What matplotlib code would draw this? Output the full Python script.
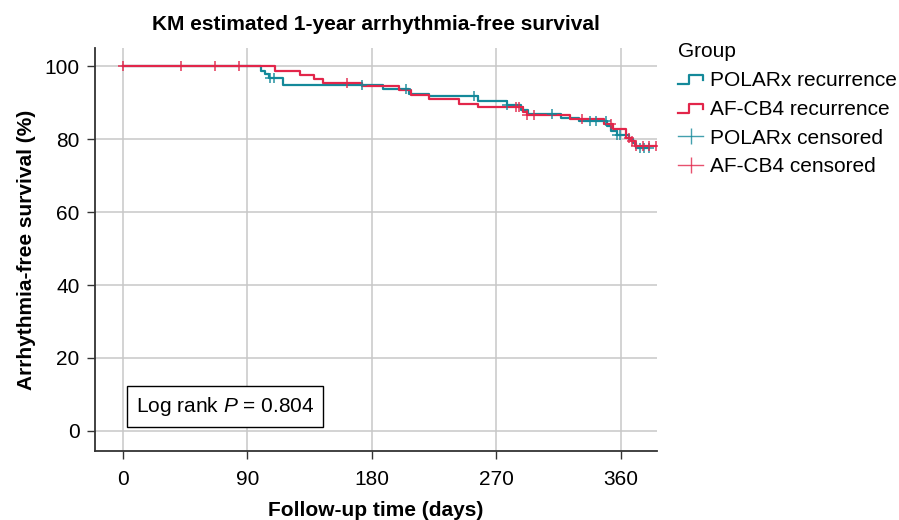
import matplotlib
matplotlib.use("Agg")
import matplotlib.pyplot as plt
import numpy as np
from matplotlib.legend_handler import HandlerLine2D
from matplotlib.lines import Line2D

plt.rcParams["font.family"] = ["Liberation Sans", "DejaVu Sans"]
plt.rcParams["mathtext.fontset"] = "custom"
plt.rcParams["mathtext.it"] = "Liberation Sans:italic"
plt.rcParams["mathtext.rm"] = "Liberation Sans"

TEAL = "#14899a"
RED = "#e2264a"
FS = 15

# KM step points: time (days) and survival (%) after each drop
polarx_times = [0, 100, 103, 106, 116, 188, 207, 221, 257, 278, 288, 293, 317, 330, 350, 353, 357, 366, 369, 371, 380]
polarx_surv = [100, 98.8, 97.8, 96.9, 94.8, 93.7, 92.5, 91.9, 90.4, 89.3, 88.0, 86.9, 85.8, 85.0, 83.5, 82.2, 81.1, 80.0, 79.0, 77.6, 77.6]
afcb4_times = [0, 110, 128, 138, 145, 173, 200, 208, 221, 243, 257, 289, 292, 323, 348, 354, 364, 367, 370, 385]
afcb4_surv = [100, 98.8, 97.6, 96.5, 95.4, 94.5, 93.4, 92.1, 91.1, 89.7, 88.8, 87.5, 86.6, 85.5, 84.1, 82.7, 80.4, 79.4, 78.2, 78.2]

# censored times
polarx_cens = [106.6, 109, 173, 205, 254, 278, 310, 338, 342, 349, 357, 359, 374, 377, 380]
afcb4_cens = [0, 42, 67, 84, 162, 284, 286, 292, 297, 332, 353, 366, 368, 371, 376, 380, 385]

x_ticks = [0, 90, 180, 270, 360]
y_ticks = [0, 20, 40, 60, 80, 100]
p_text = "Log rank $P$ = 0.804"


def surv_at(times, surv, t):
    idx = np.searchsorted(times, t, side="right") - 1
    return np.asarray(surv)[np.clip(idx, 0, len(surv) - 1)]


class StepHandler(HandlerLine2D):
    def create_artists(self, legend, orig_handle, xdescent, ydescent,
                       width, height, fontsize, trans):
        xs = np.array([0, 0.42, 0.42, 1.0, 1.0]) * width - xdescent
        ys = np.array([0.15, 0.15, 0.75, 0.75, 0.4]) * height - ydescent
        line = Line2D(xs, ys, color=orig_handle.get_color(),
                      linewidth=orig_handle.get_linewidth(), transform=trans)
        return [line]


fig = plt.figure(figsize=(8.99, 5.2), dpi=100)
ax = fig.add_axes([0.1057, 0.1327, 0.625, 0.775])

ax.step(polarx_times, polarx_surv, where="post", color=TEAL, lw=1.6, zorder=3)
ax.step(afcb4_times, afcb4_surv, where="post", color=RED, lw=1.6, zorder=4)
ax.plot(polarx_cens, surv_at(polarx_times, polarx_surv, polarx_cens), "+",
        color=TEAL, ms=7, mew=1.2, alpha=0.85, zorder=5)
ax.plot(afcb4_cens, surv_at(afcb4_times, afcb4_surv, afcb4_cens), "+",
        color=RED, ms=7, mew=1.2, alpha=0.85, zorder=6)

ax.set_xlim(-20, 386)
ax.set_ylim(-5.5, 105)
ax.set_xticks(x_ticks)
ax.set_yticks(y_ticks)
ax.grid(True, color="#c8c8c8", lw=1.1)
ax.set_axisbelow(True)
for side in ["top", "right"]:
    ax.spines[side].set_visible(False)
for side in ["left", "bottom"]:
    ax.spines[side].set_color("#333333")
    ax.spines[side].set_linewidth(1.3)
ax.tick_params(length=5.5, width=1, color="#333333", labelsize=FS)
ax.tick_params(axis="x", pad=8.5)
ax.tick_params(axis="y", pad=5.5)

ax.set_title("KM estimated 1-year arrhythmia-free survival", fontsize=FS,
             fontweight="bold", pad=13)
ax.set_xlabel("Follow-up time (days)", fontsize=FS, fontweight="bold", labelpad=8)
ax.set_ylabel("Arrhythmia-free survival (%)", fontsize=FS, fontweight="bold", labelpad=6)

ax.text(0.231, 0.110, p_text, transform=ax.transAxes, ha="center", va="center",
        fontsize=FS, bbox=dict(boxstyle="square,pad=0.42", fc="white", ec="black", lw=1))

h1 = Line2D([], [], color=TEAL, lw=1.6)
h2 = Line2D([], [], color=RED, lw=1.6)
h3 = Line2D([0], [0], color=TEAL, lw=1, marker="|", ms=11, mew=1, alpha=0.8)
h4 = Line2D([0], [0], color=RED, lw=1, marker="|", ms=11, mew=1, alpha=0.8)
leg = fig.legend([h1, h2, h3, h4],
                 ["POLARx recurrence", "AF-CB4 recurrence", "POLARx censored", "AF-CB4 censored"],
                 title="Group", loc="upper left", bbox_to_anchor=(0.745, 0.935),
                 frameon=False, fontsize=FS, title_fontsize=FS,
                 handlelength=1.2, handletextpad=0.34, labelspacing=0.47,
                 borderaxespad=0, numpoints=1,
                 handler_map={h1: StepHandler(), h2: StepHandler()})
leg._legend_box.align = "left"

fig.savefig("out.png", dpi=100)
